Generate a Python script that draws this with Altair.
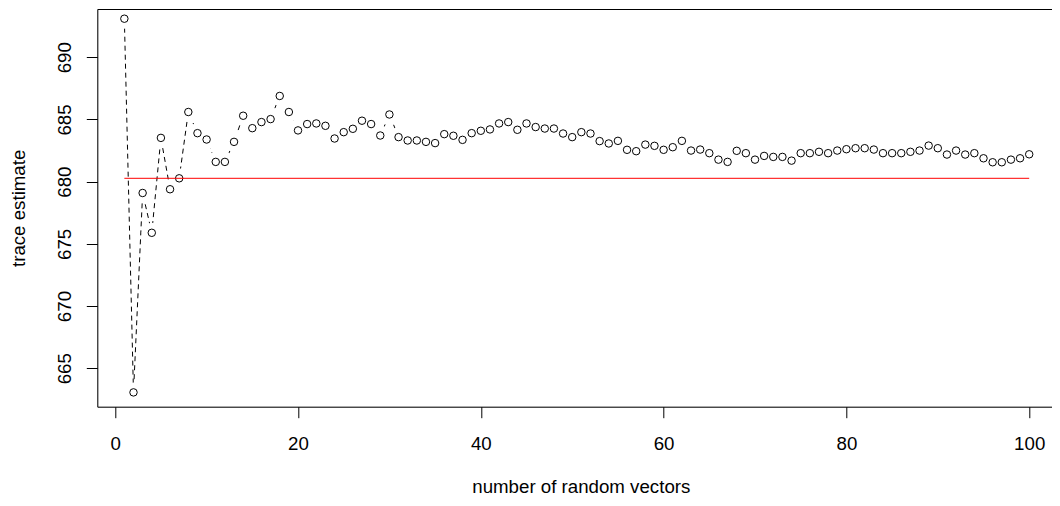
import altair as alt
import pandas as pd

# number of random vectors (index)
n_vectors = list(range(1, 101))

# running trace estimate
trace_est = [
    693.10, 663.06, 679.09, 675.89, 683.52, 679.39, 680.27, 685.60, 683.90, 683.39,
    681.59, 681.59, 683.20, 685.30, 684.30, 684.79, 685.03, 686.89, 685.60, 684.12,
    684.63, 684.68, 684.49, 683.47, 683.98, 684.25, 684.90, 684.63, 683.71, 685.40,
    683.58, 683.31, 683.31, 683.20, 683.10, 683.82, 683.69, 683.36, 683.90, 684.09,
    684.20, 684.68, 684.79, 684.17, 684.68, 684.39, 684.27, 684.27, 683.87, 683.58,
    683.98, 683.87, 683.26, 683.07, 683.28, 682.56, 682.45, 682.98, 682.88, 682.56,
    682.77, 683.28, 682.50, 682.58, 682.29, 681.77, 681.59, 682.48, 682.29, 681.77,
    682.07, 681.99, 681.99, 681.69, 682.29, 682.29, 682.40, 682.29, 682.50, 682.61,
    682.69, 682.69, 682.58, 682.29, 682.29, 682.29, 682.40, 682.50, 682.90, 682.69,
    682.18, 682.50, 682.18, 682.29, 681.88, 681.56, 681.56, 681.77, 681.88, 682.20,
]

# true value (red reference line) and its extent
true_value = [680.27]
ref_start = [1]
ref_end = [100]

x_ticks = [0, 20, 40, 60, 80, 100]
y_ticks = [665, 670, 675, 680, 685, 690]

df = pd.DataFrame({"n": n_vectors, "est": trace_est})
df_ref = pd.DataFrame({"n": ref_start, "n2": ref_end, "est": true_value})

FONT = "Liberation Sans"
FS = 18.7

x_scale = alt.Scale(domain=[-1.96, 103.84], nice=False, zero=False)
y_scale = alt.Scale(domain=[661.91, 693.88], nice=False, zero=False)

x_axis = alt.Axis(
    values=x_ticks, orient="bottom", grid=False, domain=True, domainColor="black",
    domainWidth=1, ticks=True, tickSize=11, tickColor="black", tickWidth=1,
    labelFontSize=FS, labelColor="black", labelFont=FONT, labelBaseline="alphabetic",
    labelPadding=31.8, labelFlush=False, labelOverlap=False,
    title="number of random vectors", titleFontSize=FS, titleFont=FONT,
    titleFontWeight="normal", titleColor="black", titleBaseline="alphabetic",
    titleY=86, zindex=1,
)
y_axis = alt.Axis(
    values=y_ticks, orient="left", grid=False, domain=True, domainColor="black",
    domainWidth=1, ticks=True, tickSize=11, tickColor="black", tickWidth=1,
    labelFontSize=FS, labelColor="black", labelFont=FONT, labelAngle=270,
    labelAlign="center", labelBaseline="alphabetic", labelPadding=15.6,
    labelFlush=False, labelOverlap=False,
    title="trace estimate", titleFontSize=FS, titleFont=FONT,
    titleFontWeight="normal", titleColor="black", titleAngle=270,
    titleBaseline="alphabetic", titleX=-73.3, zindex=1,
)
top_axis = alt.Axis(
    orient="top", grid=False, domain=True, domainColor="black", domainWidth=1,
    ticks=False, labels=False, title=None, zindex=1,
)

line = alt.Chart(df).mark_line(color="black", strokeDash=[5, 4], strokeWidth=1).encode(
    x=alt.X("n:Q", scale=x_scale, axis=x_axis),
    y=alt.Y("est:Q", scale=y_scale, axis=y_axis),
)
halo = alt.Chart(df).mark_circle(color="white", opacity=1, size=400).encode(
    x=alt.X("n:Q", scale=x_scale, axis=None),
    y=alt.Y("est:Q", scale=y_scale),
)
pts = alt.Chart(df).mark_point(
    shape="circle", filled=False, color="black", size=56, strokeWidth=1, opacity=1
).encode(
    x=alt.X("n:Q", scale=x_scale, axis=None),
    y=alt.Y("est:Q", scale=y_scale),
)
ref = alt.Chart(df_ref).mark_rule(color="#FF0000", strokeWidth=1).encode(
    x=alt.X("n:Q", scale=x_scale, axis=top_axis),
    x2="n2:Q",
    y=alt.Y("est:Q", scale=y_scale),
)

chart = (
    alt.layer(line, halo, pts, ref)
    .resolve_axis(x="independent")
    .properties(
        width=967,
        height=397.7,
        padding={"left": 89.3, "top": 1, "right": -12.3, "bottom": 91.3},
        autosize=alt.AutoSizeParams(type="none"),
        background="white",
    )
    .configure_view(stroke="transparent")
    .configure(font=FONT)
)

chart.save("out.html", embed_options={"renderer": "svg", "actions": False})
